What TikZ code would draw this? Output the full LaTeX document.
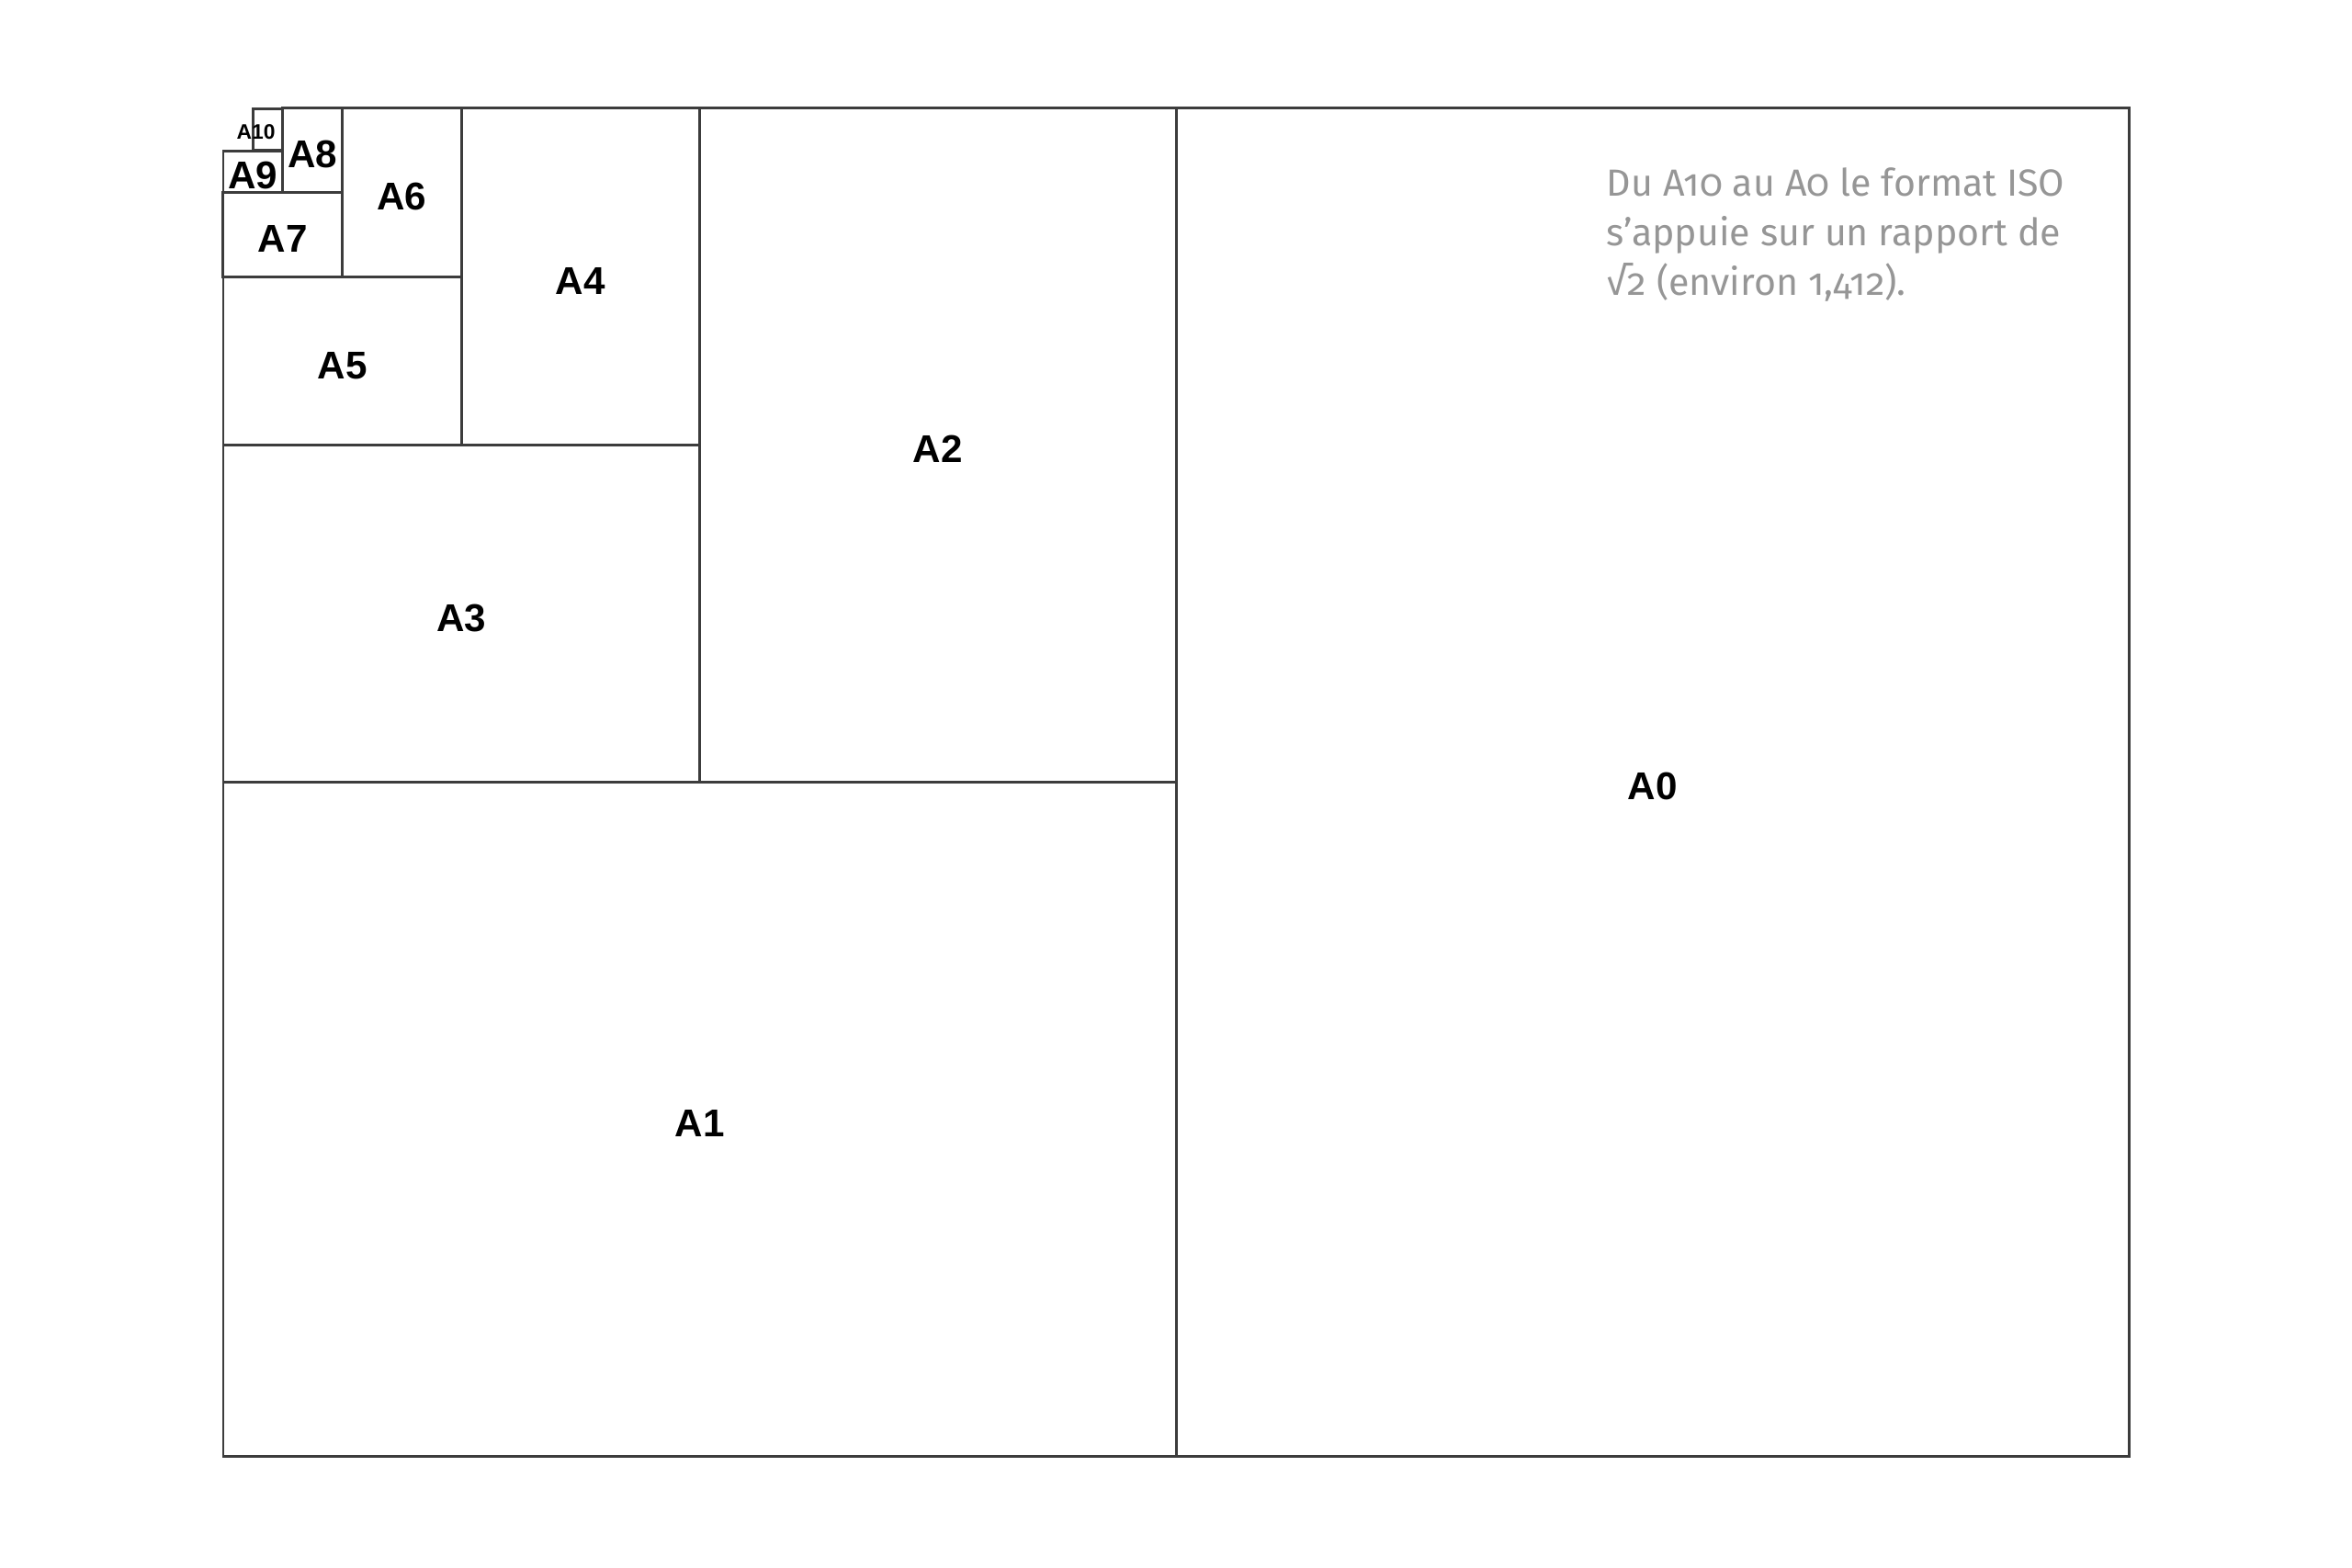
\documentclass[tikz,border=0pt]{standalone}
\usepackage{fontspec}
\setmainfont{Liberation Sans}
\newfontfamily\notefont[Numbers=OldStyle]{Fira Sans}
\definecolor{sheetline}{RGB}{60,60,60}
\definecolor{notegray}{RGB}{150,150,150}
\tikzset{
  sheet/.style={draw=sheetline, line width=0.85pt, rectangle, inner sep=0pt, outer sep=0pt,
    text height=0.38cm, text depth=0pt, font=\fontsize{12}{14}\selectfont\bfseries},
}

\begin{document}
\begin{tikzpicture}
      \useasboundingbox (0,0) rectangle (25.6,17.07);
      \node[name=a0, sheet, minimum width=10.37cm, minimum height=14.68cm] at (17.985,8.55){A0};
      \node[name=a1, sheet, minimum width=10.37cm, minimum height=7.34cm] at (7.615,4.88){A1};
      \node[name=a2, sheet, minimum width=5.185cm, minimum height=7.34cm] at (10.2075,12.22){A2};
      \node[name=a3, sheet, minimum width=5.185cm, minimum height=3.67cm] at (5.0225,10.385){A3};
      \node[name=a4, sheet, minimum width=2.5925cm, minimum height=3.67cm] at (6.31875,14.055){A4};
      \node[name=a5, sheet, minimum width=2.5925cm, minimum height=1.835cm] at (3.72625,13.1375){A5};
      \node[name=a6, sheet, minimum width=1.29625cm, minimum height=1.835cm] at (4.374,14.9725){A6};
      \node[name=a7, sheet, minimum width=1.29625cm, minimum height=0.9175cm] at (3.078,14.51375){A7};
      \node[name=a8, sheet, minimum width=0.648cm, minimum height=0.9175cm] at (3.402,15.43125){A8};
      \node[name=a9, sheet, minimum width=0.648cm, minimum height=0.45875cm] at (2.754,15.20){A9};
      \node[name=a10, sheet, minimum width=0.324cm, minimum height=0.45875cm] at (2.916,15.66){};
      \node[font=\fontsize{6.5}{7}\selectfont\bfseries, xshift=-1.3mm, yshift=-0.3mm] at (a10.center){A10};
      \node[name=note, anchor=north west, align=left, inner sep=0pt, text=notegray,
        font=\notefont\fontsize{11.7}{15.4}\selectfont] at (17.48,15.25)
        {Du A10 au A0 le format ISO\\s’appuie sur un rapport de\\√2 (environ 1,412).};
   \end{tikzpicture}
\end{document}
